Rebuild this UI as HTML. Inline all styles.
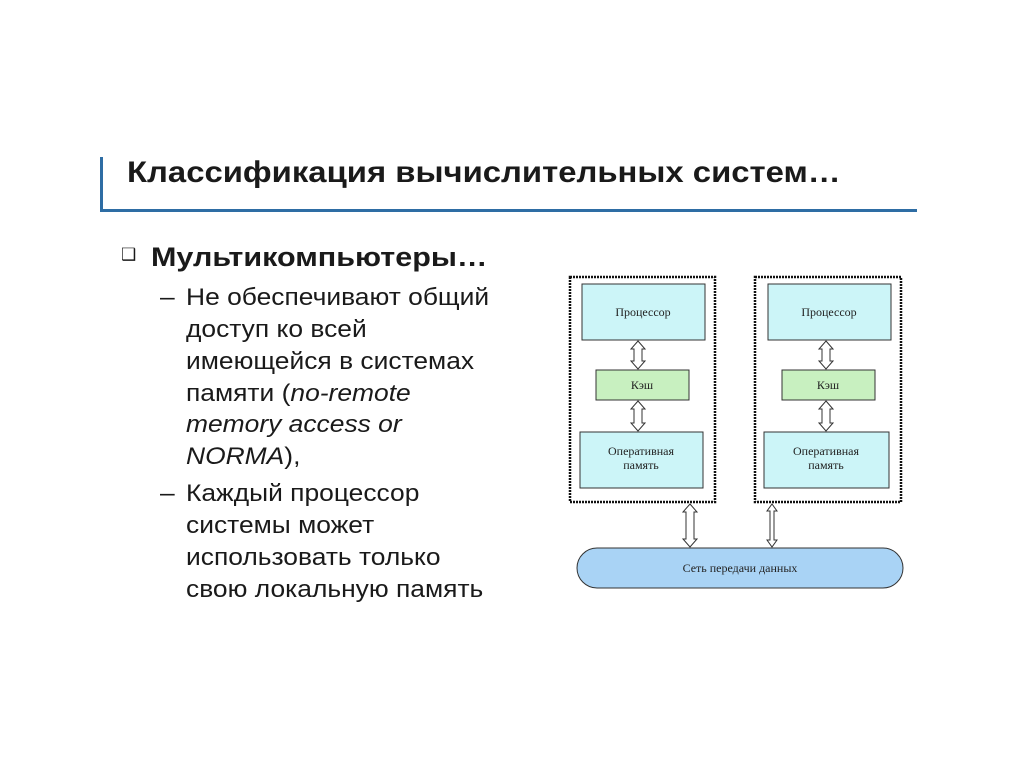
<!DOCTYPE html>
<html><head><meta charset="utf-8"><style>
body{margin:0;width:1024px;height:767px;background:#fff;position:relative;overflow:hidden;font-family:"Liberation Sans",sans-serif;color:#1a1a1a}
.t{position:absolute;white-space:nowrap;line-height:1;transform-origin:0 0}
.s{font-size:24px;transform:scaleX(1.1)}
</style></head><body>
<div style="position:absolute;left:100px;top:157px;width:3px;height:55px;background:#2e6da4"></div>
<div style="position:absolute;left:100px;top:209px;width:817px;height:3px;background:#2e6da4"></div>
<div class="t" style="left:127px;top:158px;font-size:30px;font-weight:bold;transform:scaleX(1.095)">Классификация вычислительных систем…</div>
<div class="t" style="left:121px;top:246px;font-size:17px">❑</div>
<div class="t" style="left:151px;top:244px;font-size:27px;font-weight:bold;transform:scaleX(1.13)">Мультикомпьютеры…</div>
<div class="t s" style="left:160px;top:286px">–</div>
<div class="t s" style="left:186px;top:286px">Не обеспечивают общий</div>
<div class="t s" style="left:186px;top:318px">доступ ко всей</div>
<div class="t s" style="left:186px;top:350px">имеющейся в системах</div>
<div class="t s" style="left:186px;top:382px">памяти (<i>no-remote</i></div>
<div class="t s" style="left:186px;top:413px"><i>memory access or</i></div>
<div class="t s" style="left:186px;top:445px"><i>NORMA</i>),</div>
<div class="t s" style="left:160px;top:482px">–</div>
<div class="t s" style="left:186px;top:482px">Каждый процессор</div>
<div class="t s" style="left:186px;top:514px">системы может</div>
<div class="t s" style="left:186px;top:546px">использовать только</div>
<div class="t s" style="left:186px;top:578px">свою локальную память</div>
<svg width="1024" height="767" style="position:absolute;left:0;top:0" font-family="Liberation Serif,serif" font-size="12" fill="#222">
<g stroke="#111" stroke-width="2.5" stroke-dasharray="2,1" fill="none">
<rect x="570" y="277" width="145" height="225"/>
<rect x="755" y="277" width="146" height="225"/>
</g>
<g stroke="#333" stroke-width="1">
<rect x="582" y="284" width="123" height="56" fill="#ccf5f8"/>
<rect x="596" y="370" width="93" height="30" fill="#c8f0c0"/>
<rect x="580" y="432" width="123" height="56" fill="#ccf5f8"/>
<rect x="768" y="284" width="123" height="56" fill="#ccf5f8"/>
<rect x="782" y="370" width="93" height="30" fill="#c8f0c0"/>
<rect x="764" y="432" width="125" height="56" fill="#ccf5f8"/>
<rect x="577" y="548" width="326" height="40" rx="20" fill="#a9d3f5"/>
</g>
<g fill="#fff" stroke="#333" stroke-width="1">
<polygon points="638,341 645,349 642,349 642,361 645,361 638,369 631,361 634,361 634,349 631,349"/>
<polygon points="638,401 645,409 642,409 642,423 645,423 638,431 631,423 634,423 634,409 631,409"/>
<polygon points="826,341 833,349 830,349 830,361 833,361 826,369 819,361 822,361 822,349 819,349"/>
<polygon points="826,401 833,409 830,409 830,423 833,423 826,431 819,423 822,423 822,409 819,409"/>
<polygon points="690,504 697,512 694,512 694,539 697,539 690,547 683,539 686,539 686,512 683,512"/>
<polygon points="772,504 777,511 774,511 774,540 777,540 772,547 767,540 770,540 770,511 767,511"/>
</g>
<g text-anchor="middle">
<text x="643" y="316">Процессор</text>
<text x="642" y="389">Кэш</text>
<text x="641" y="455">Оперативная</text>
<text x="641" y="469">память</text>
<text x="829" y="316">Процессор</text>
<text x="828" y="389">Кэш</text>
<text x="826" y="455">Оперативная</text>
<text x="826" y="469">память</text>
<text x="740" y="572">Сеть передачи данных</text>
</g>
</svg>
</body></html>
